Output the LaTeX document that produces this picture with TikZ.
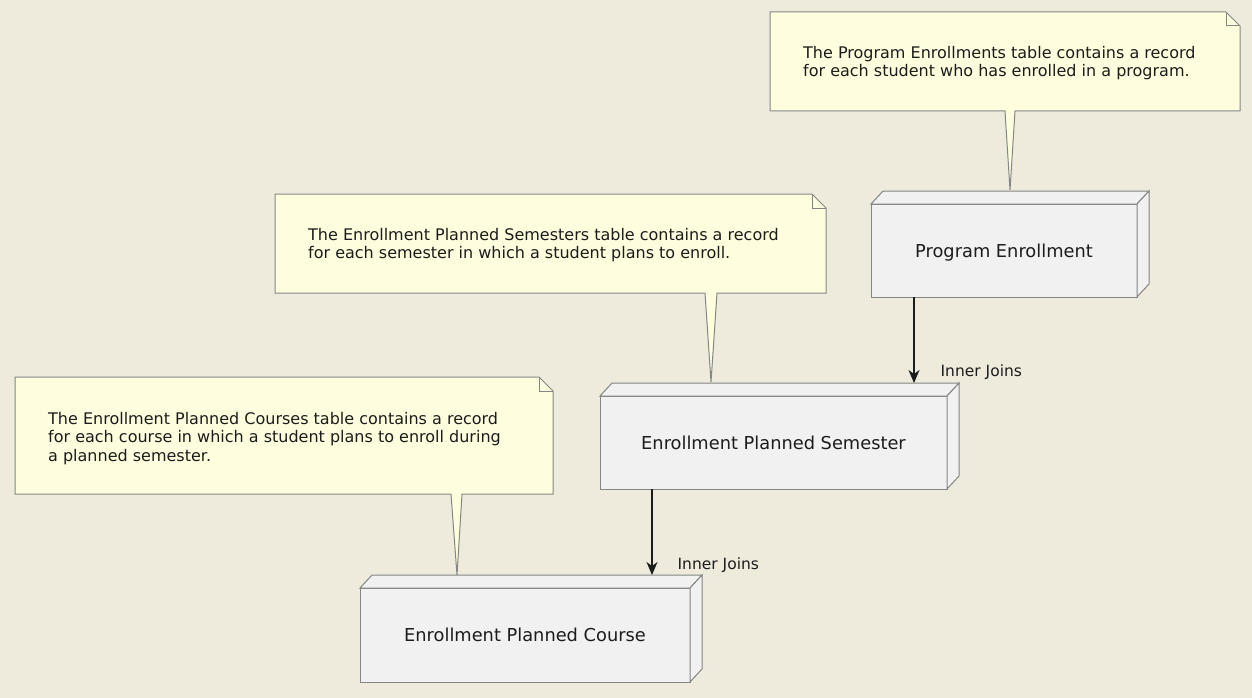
\documentclass[tikz,border=0pt]{standalone}
\usepackage{fontspec}
\setmainfont{DejaVu Sans}
\usetikzlibrary{calc,arrows.meta}

\definecolor{bg}{HTML}{EEEBDD}
\definecolor{notefill}{HTML}{FEFEDE}
\definecolor{edge}{HTML}{858585}
\definecolor{boxfill}{HTML}{F1F1F1}
\definecolor{ink}{HTML}{1C1C1C}

\tikzset{
  note/.style={draw=edge, fill=notefill, line width=1pt, line join=miter},
  notefold/.style={draw=edge, line width=1pt},
  notetext/.style={anchor=north west, inner sep=0pt, align=left, text=ink,
    font=\fontsize{16}{18.4}\selectfont},
  front/.style={draw=edge, fill=boxfill, line width=1pt, inner sep=0pt,
    outer sep=0pt, text=ink, text height=13.5pt, text depth=0pt,
    font=\fontsize{17.8}{20}\selectfont},
  face/.style={draw=edge, fill=boxfill, line width=1pt, line join=miter},
  joinarrow/.style={draw=ink, line width=1.3pt,
    -{Stealth[length=13pt,width=11pt,inset=4pt]}},
  lbl/.style={anchor=west, inner sep=0pt, text=ink,
    font=\fontsize{15.5}{18}\selectfont},
}

\begin{document}
\begin{tikzpicture}[x=1pt,y=-1pt]
  \fill[bg] (0,0) rectangle (1252,698);
  \useasboundingbox (0,0) rectangle (1252,698);

  % ---- notes (drawn first, their pointers end on the box tops) ----
  \draw[note] (770,12) -- (1226,12) -- (1240,26) -- (1240,111) -- (1015,111)
    -- (1010,190) -- (1005,111) -- (770,111) -- cycle;
  \draw[notefold] (1226,12) -- (1226,26) -- (1240,26);
  \node[notetext] (n1) at (803,46)
    {The Program Enrollments table contains a record\\
     for each student who has enrolled in a program.};

  \draw[note] (275,194) -- (812,194) -- (826,208) -- (826,293) -- (717,293)
    -- (711,382) -- (705,293) -- (275,293) -- cycle;
  \draw[notefold] (812,194) -- (812,208) -- (826,208);
  \node[notetext] (n2) at (308,228)
    {The Enrollment Planned Semesters table contains a record\\
     for each semester in which a student plans to enroll.};

  \draw[note] (15,377) -- (539,377) -- (553,391) -- (553,494) -- (462,494)
    -- (457,575) -- (451,494) -- (15,494) -- cycle;
  \draw[notefold] (539,377) -- (539,391) -- (553,391);
  \node[notetext] (n3) at (48,412)
    {The Enrollment Planned Courses table contains a record\\
     for each course in which a student plans to enroll during\\
     a planned semester.};

  % ---- table boxes ----
  \node[front, minimum width=266pt, minimum height=93pt] (pe) at (1004,250.5)
    {Program Enrollment};
  \node[front, minimum width=347pt, minimum height=93pt] (eps) at (773.5,442.5)
    {Enrollment Planned Semester};
  \node[front, minimum width=330pt, minimum height=94pt] (epc) at (525,635)
    {Enrollment Planned Course};

  \foreach \b in {pe,eps,epc}{
    \draw[face] (\b.north west) -- ++(12,-13) -- ($(\b.north east)+(12,-13)$)
      -- (\b.north east) -- cycle;
    \draw[face] (\b.north east) -- ++(12,-13) -- ($(\b.south east)+(12,-13)$)
      -- (\b.south east) -- cycle;
  }

  % ---- joins ----
  \draw[joinarrow] ($(pe.south west)+(43,0)$) -- ($(eps.north west)+(314,-13)$)
    node[lbl, pos=0.85, xshift=26pt, yshift=-2pt] {Inner Joins};
  \draw[joinarrow] ($(eps.south west)+(52,0)$) -- ($(epc.north west)+(292,-13)$)
    node[lbl, pos=0.86, xshift=25pt, yshift=-2pt] {Inner Joins};
\end{tikzpicture}
\end{document}
